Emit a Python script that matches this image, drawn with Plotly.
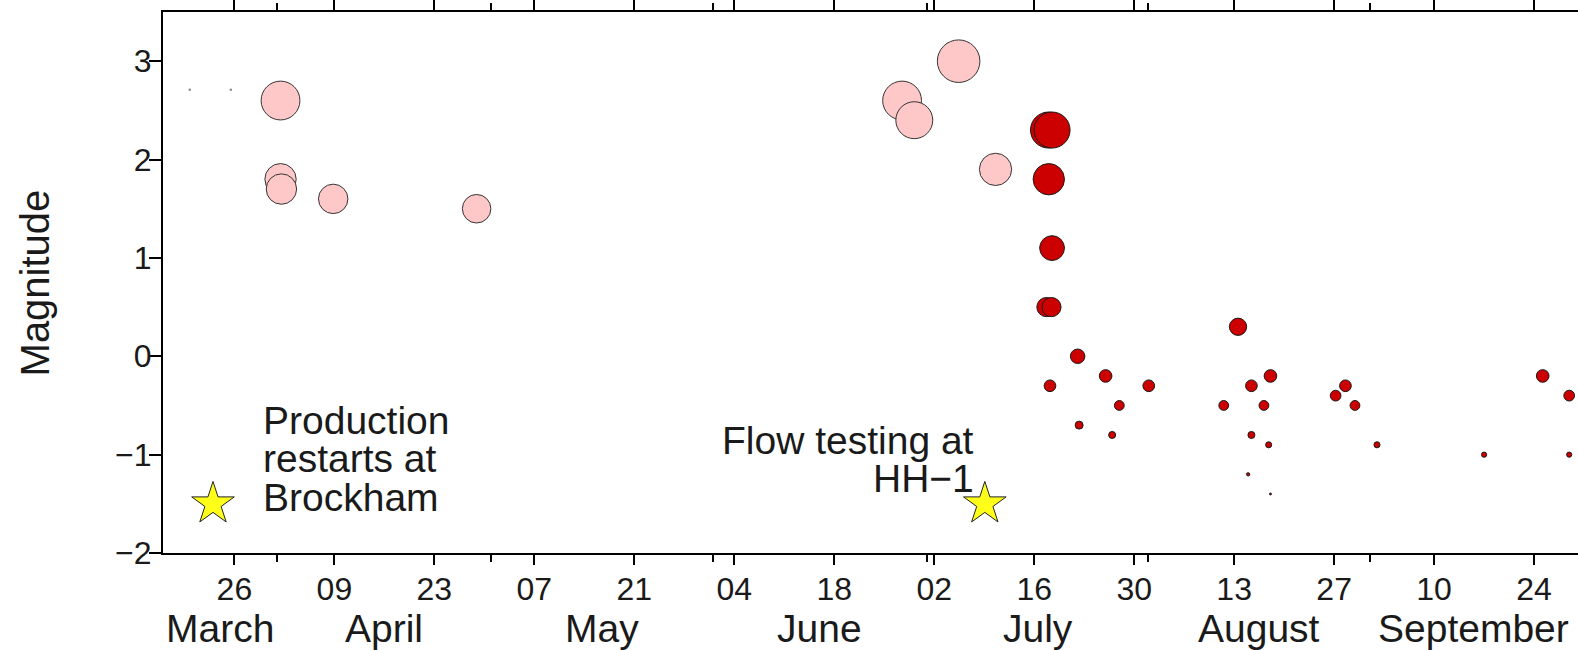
import plotly.graph_objects as go
import pandas as pd

# ---------------- data ----------------
pink_dates = ["2018-04-01 11:00", "2018-04-01 11:00", "2018-04-01 14:00", "2018-04-08 20:00",
              "2018-04-28 22:00", "2018-06-27 12:00", "2018-06-29 05:00", "2018-07-05 10:00",
              "2018-07-10 14:00"]
pink_mag = [2.6, 1.8, 1.7, 1.6, 1.5, 2.6, 2.4, 3.0, 1.9]

red_dates = ["2018-07-18 00:00", "2018-07-18 12:00", "2018-07-18 01:00", "2018-07-18 12:00",
             "2018-07-17 17:00", "2018-07-18 10:00", "2018-07-18 05:00", "2018-07-22 02:00",
             "2018-07-22 07:00", "2018-07-26 00:00", "2018-07-26 22:00", "2018-07-27 22:00",
             "2018-08-01 01:00", "2018-08-11 13:00", "2018-08-13 13:00", "2018-08-14 23:00",
             "2018-08-15 10:00", "2018-08-15 10:00", "2018-08-17 04:00", "2018-08-17 20:00",
             "2018-08-18 02:00", "2018-08-18 02:00", "2018-08-27 05:00", "2018-08-28 14:00",
             "2018-08-29 22:00", "2018-09-02 00:00", "2018-09-17 00:00", "2018-09-25 05:00",
             "2018-09-28 22:00", "2018-09-28 22:00"]
red_mag = [2.3, 2.3, 1.8, 1.1, 0.5, 0.5, -0.3, 0.0, -0.7, -0.2, -0.8, -0.5,
           -0.3, -0.5, 0.3, -1.2, -0.3, -0.8, -0.5, -0.9, -0.2, -1.4, -0.4, -0.3,
           -0.5, -0.9, -1.0, -0.2, -0.4, -1.0]

other_dates = ["2018-03-19 18:00", "2018-03-25 12:00"]
other_mag = [2.71, 2.71]

star_dates = ["2018-03-23 00:00", "2018-07-09 02:00"]
star_mag = [-1.5, -1.5]

major_ticks = ["2018-03-26", "2018-04-09", "2018-04-23", "2018-05-07", "2018-05-21",
               "2018-06-04", "2018-06-18", "2018-07-02", "2018-07-16", "2018-07-30",
               "2018-08-13", "2018-08-27", "2018-09-10", "2018-09-24"]
tick_labels = ["26", "09", "23", "07", "21", "04", "18", "02", "16", "30", "13", "27", "10", "24"]
month_starts = ["2018-03-01", "2018-04-01", "2018-05-01", "2018-06-01", "2018-07-01",
                "2018-08-01", "2018-09-01", "2018-10-01"]
month_names = ["March", "April", "May", "June", "July", "August", "September"]

x_range = ["2018-03-16 00:00", "2018-09-30 03:36"]
y_range = [-2, 3.5]

# ---------------- figure ----------------
FONT = "Liberation Sans"
TXT = "#1a1a1a"


def sizes(mags):
    return [max(2.0, 14.5 + 9.35 * m) for m in mags]


fig = go.Figure()
fig.add_trace(go.Scatter(x=other_dates, y=other_mag, mode="markers",
                         marker=dict(size=2.5, color="#8a8a8a", opacity=1, line=dict(width=0)),
                         showlegend=False, hoverinfo="skip"))
fig.add_trace(go.Scatter(x=pink_dates, y=pink_mag, mode="markers",
                         marker=dict(size=sizes(pink_mag), color="#FFC8C8", opacity=1,
                                     line=dict(color="#333333", width=1)),
                         showlegend=False))
fig.add_trace(go.Scatter(x=red_dates, y=red_mag, mode="markers",
                         marker=dict(size=sizes(red_mag), color="#CC0000", opacity=1,
                                     line=dict(color="#1a1a1a", width=1)),
                         showlegend=False))
fig.add_trace(go.Scatter(x=star_dates, y=star_mag, mode="markers",
                         marker=dict(symbol="star", size=32, color="#FFFF1A", opacity=1,
                                     line=dict(color="#222222", width=1)),
                         showlegend=False, cliponaxis=False))

# month labels centred on the visible part of each month
rs, re_ = pd.Timestamp(x_range[0]), pd.Timestamp(x_range[1])
for i, name in enumerate(month_names):
    a = max(pd.Timestamp(month_starts[i]), rs)
    b = min(pd.Timestamp(month_starts[i + 1]), re_)
    mid = a + (b - a) / 2
    fig.add_annotation(x=mid, xref="x", y=-0.14, yref="paper", text=name,
                       showarrow=False, xanchor="center", yanchor="middle",
                       font=dict(family=FONT, size=39, color=TXT))

# text annotations
fig.add_annotation(x=-0.0905, xref="paper", y=0.5, yref="paper", text="Magnitude",
                   textangle=-90, showarrow=False, xanchor="center", yanchor="middle",
                   font=dict(family=FONT, size=40, color=TXT))

left_lines = [("Production", -0.65), ("restarts at", -1.04), ("Brockham", -1.44)]
for t, yy in left_lines:
    fig.add_annotation(x="2018-03-29 18:00", xref="x", y=yy, yref="y", text=t,
                       showarrow=False, xanchor="left", yanchor="middle",
                       font=dict(family=FONT, size=39, color=TXT))
right_lines = [("Flow testing at", -0.86), ("HH\u22121", -1.24)]
for t, yy in right_lines:
    fig.add_annotation(x="2018-07-07 22:00", xref="x", y=yy, yref="y", text=t,
                       showarrow=False, xanchor="right", yanchor="middle",
                       font=dict(family=FONT, size=39, color=TXT))

fig.update_layout(
    width=1578, height=650,
    margin=dict(l=163, r=0, t=12, b=97),
    paper_bgcolor="white", plot_bgcolor="white",
    font=dict(family=FONT, color=TXT),
    hovermode=False,
    xaxis=dict(type="date", range=x_range, tickmode="array", tickvals=major_ticks,
               ticktext=tick_labels, ticks="outside", ticklen=10, tickwidth=1.5,
               tickcolor="black", showline=True, linewidth=2, linecolor="black",
               mirror="ticks", showgrid=False, zeroline=False, ticklabelstandoff=-3,
               tickfont=dict(family=FONT, size=32, color=TXT),
               minor=dict(tickmode="array", tickvals=month_starts[1:-1], ticks="outside",
                          ticklen=7, tickwidth=1.5, tickcolor="black", showgrid=False)),
    yaxis=dict(range=y_range, tickmode="array", tickvals=[-2, -1, 0, 1, 2, 3],
               ticks="outside", ticklen=12, tickwidth=1.5, tickcolor="black",
               showline=True, linewidth=2, linecolor="black", mirror=False,
               showgrid=False, zeroline=False, ticklabelstandoff=-9,
               tickfont=dict(family=FONT, size=32, color=TXT)),
)

fig.write_html("out.html", config={"displayModeBar": False},
               post_script="document.body.style.margin='0px';"
                           "document.body.style.overflow='hidden';")
